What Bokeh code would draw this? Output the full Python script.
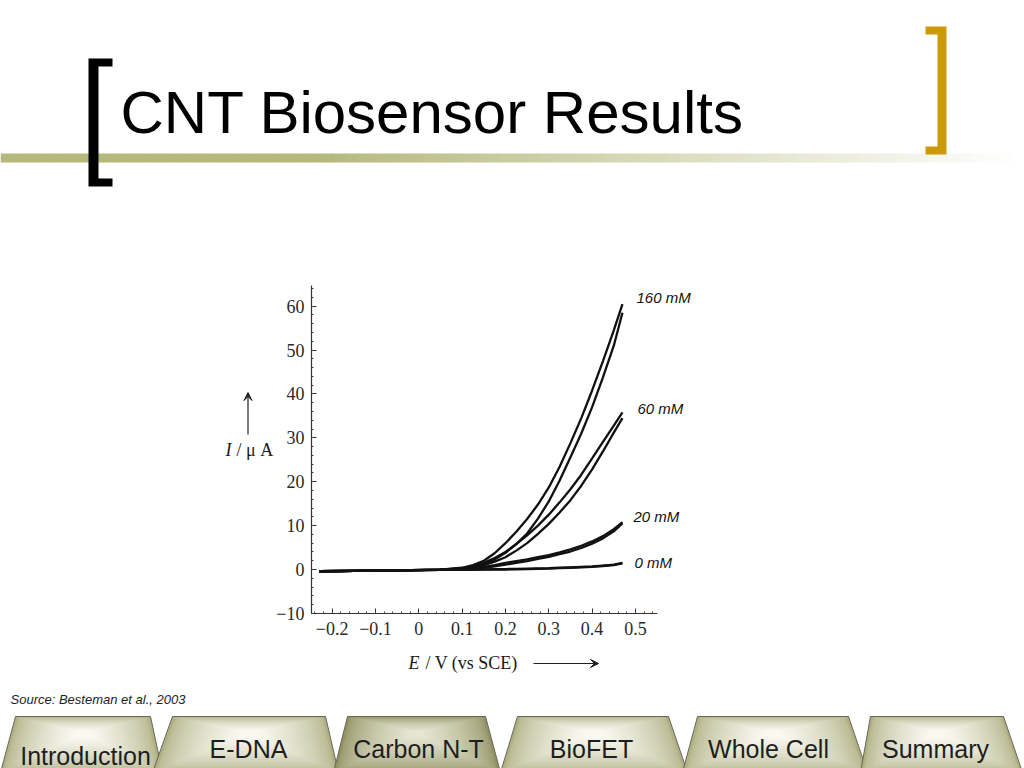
import numpy as np
from bokeh.plotting import figure
from bokeh.models import Range1d, FixedTicker, Label, Arrow, VeeHead
from bokeh.embed import file_html
from bokeh.resources import INLINE

# ---------------- data ----------------
E = [-0.23, -0.15, -0.05, 0.05, 0.100, 0.125, 0.150, 0.175, 0.200, 0.225,
     0.250, 0.275, 0.300, 0.325, 0.350, 0.375, 0.400, 0.425, 0.450, 0.470]

I_160_a = [-0.4, -0.3, -0.2, -0.05, 0.4, 1.0, 2.0, 3.7, 6.0, 8.6, 11.5, 14.8, 18.7, 23.4, 28.8, 34.5, 40.8, 47.5, 54.5, 60.5]
I_160_b = [-0.4, -0.3, -0.2, -0.1, 0.2, 0.6, 1.2, 2.3, 3.8, 5.8, 8.2, 11.6, 15.5, 20.3, 25.6, 31.0, 37.0, 43.8, 51.0, 58.5]
I_60_a = [-0.4, -0.3, -0.2, -0.05, 0.3, 0.8, 1.5, 2.6, 4.0, 5.8, 7.8, 10.0, 12.5, 15.3, 18.3, 21.6, 25.3, 29.1, 32.8, 35.8]
I_60_b = [-0.4, -0.3, -0.2, -0.1, 0.2, 0.5, 1.0, 1.8, 2.8, 4.3, 6.0, 8.1, 10.4, 13.0, 15.8, 19.1, 22.8, 26.9, 31.2, 34.5]
I_20_a = [-0.4, -0.3, -0.2, -0.05, 0.1, 0.3, 0.6, 1.0, 1.5, 1.9, 2.3, 2.8, 3.3, 3.9, 4.6, 5.4, 6.4, 7.6, 9.2, 10.8]
I_20_b = [-0.4, -0.3, -0.2, -0.1, 0.0, 0.2, 0.4, 0.7, 1.1, 1.5, 1.9, 2.4, 2.9, 3.5, 4.1, 4.9, 5.9, 7.1, 8.7, 10.5]
I_0_a = [-0.4, -0.3, -0.2, -0.05, 0.0, 0.02, 0.05, 0.08, 0.1, 0.15, 0.2, 0.25, 0.3, 0.4, 0.5, 0.6, 0.7, 0.9, 1.1, 1.5]
I_0_b = [-0.4, -0.3, -0.2, -0.1, -0.1, -0.08, -0.05, -0.02, 0.0, 0.05, 0.1, 0.15, 0.2, 0.3, 0.4, 0.5, 0.6, 0.8, 1.0, 1.4]

series_names = ["160 mM", "60 mM", "20 mM", "0 mM"]
series_a = [I_160_a, I_60_a, I_20_a, I_0_a]
series_b = [I_160_b, I_60_b, I_20_b, I_0_b]

x_ticks = [-0.2, -0.1, 0.0, 0.1, 0.2, 0.3, 0.4, 0.5]
x_tick_labels = ["\u22120.2", "\u22120.1", "0", "0.1", "0.2", "0.3", "0.4", "0.5"]
y_ticks = [-10, 0, 10, 20, 30, 40, 50, 60]
y_tick_labels = ["\u221210", "0", "10", "20", "30", "40", "50", "60"]

title_text = "CNT Biosensor Results"
source_text = "Source:  Besteman et al., 2003"
tab_names = ["Introduction", "E-DNA", "Carbon N-T", "BioFET", "Whole Cell", "Summary"]
active_tab = "Carbon N-T"

# ---------------- layout (page pixels) ----------------
W, H = 1024, 768
FL, FR, FT, FB = 311, 657, 285, 613          # chart axes box on the page
X0PX, XPPV = 418.3, 433.3                      # E = 0 position, px per volt
Y0PX, YPPU = 569.0, 4.388                      # I = 0 position, px per uA


def ex(px):
    return (px - X0PX) / XPPV


def iy(py):
    return (Y0PX - py) / YPPU


p = figure(width=W, height=H, output_backend="svg", toolbar_location=None,
           x_range=Range1d(ex(0), ex(W)), y_range=Range1d(iy(H), iy(0)),
           min_border=0)
p.extra_x_ranges = {"px": Range1d(0, W)}
p.extra_y_ranges = {"py": Range1d(H, 0)}
p.xgrid.visible = False
p.ygrid.visible = False
p.outline_line_color = None
p.background_fill_color = "white"
p.border_fill_color = "white"

x_minor = [round(v, 3) for v in np.arange(-0.24, 0.55, 0.02)]
y_minor = list(range(-10, 65, 2))
p.xaxis.ticker = FixedTicker(ticks=x_ticks, minor_ticks=x_minor)
p.yaxis.ticker = FixedTicker(ticks=y_ticks, minor_ticks=y_minor)
p.xaxis.major_label_overrides = dict(zip(x_ticks, x_tick_labels))
p.yaxis.major_label_overrides = dict(zip(y_ticks, y_tick_labels))
p.xaxis.fixed_location = iy(FB)
p.yaxis.fixed_location = ex(FL)
p.xaxis.bounds = (ex(FL), ex(FR))
p.yaxis.bounds = (iy(FB), iy(FT))
for ax in (p.xaxis[0], p.yaxis[0]):
    ax.major_tick_in = 5
    ax.major_tick_out = 0
    ax.minor_tick_in = 2
    ax.minor_tick_out = 0
    ax.axis_line_color = "#333333"
    ax.axis_line_width = 1.2
    ax.major_tick_line_color = "#333333"
    ax.minor_tick_line_color = "#444444"
    ax.major_label_text_font = "Liberation Serif"
    ax.major_label_text_font_size = "18px"
    ax.major_label_text_color = "#2a2a2a"
p.xaxis.major_label_standoff = 8
p.yaxis.major_label_standoff = 7


def poly(xs, ys, fill, alpha=1.0, line=None, lw=1.0):
    p.patch(list(xs), list(ys), x_range_name="px", y_range_name="py",
            fill_color=fill, fill_alpha=alpha,
            line_color=line if line else fill, line_width=lw if line else 0.0,
            line_alpha=1.0 if line else 0.0)


def label(x, y, text, size, font="Liberation Sans", style="normal", color="#000000",
          align="left", baseline="middle"):
    p.add_layout(Label(x=x, y=y, x_range_name="px", y_range_name="py", text=text,
                       text_font=font, text_font_size=f"{size}px", text_font_style=style,
                       text_color=color, text_align=align, text_baseline=baseline))


def mix(c1, c2, t):
    a = [int(c1[i:i + 2], 16) for i in (1, 3, 5)]
    b = [int(c2[i:i + 2], 16) for i in (1, 3, 5)]
    return "#%02x%02x%02x" % tuple(int(round(a[j] + (b[j] - a[j]) * t)) for j in range(3))


# olive header rule fading to the right (opaque colour steps, no seams)
n_seg = 80
for k in range(n_seg):
    x0 = k * W / n_seg
    x1 = (k + 1) * W / n_seg + 1.0
    xm = (x0 + x1) / 2
    t = 0.0 if xm < 320 else min(1.0, (xm - 320) / 700)
    poly([x0, x1, x1, x0], [153, 153, 162, 162], mix("#b5b87d", "#ffffff", t))

# brackets
poly([88, 112, 112, 98, 98, 112, 112, 88], [58, 58, 66, 66, 178, 178, 186, 186], "#000000")
poly([925, 946, 946, 925, 925, 937, 937, 925], [26, 26, 154, 154, 146, 146, 34, 34], "#cc9a05")

label(120, 112, title_text, 60, color="#000000")

# curves
for a, b in zip(series_a, series_b):
    p.line(E, a, line_width=2.3, line_color="#111111")
    p.line(E, b, line_width=2.3, line_color="#111111")

# chart annotations
label_pos = [(636, 297), (637, 408), (633, 516), (634, 562)]
for name, (lx, ly) in zip(series_names, label_pos):
    label(lx, ly, name, 15, style="italic", color="#111111")

label(225, 449, "I", 18, font="Liberation Serif", style="italic", color="#1a1a1a")
label(236, 449, "/ \u03bc A", 18, font="Liberation Serif", color="#1a1a1a")
label(408, 662, "E", 18, font="Liberation Serif", style="italic", color="#1a1a1a")
label(425, 662, "/ V (vs SCE)", 18, font="Liberation Serif", color="#1a1a1a")
p.add_layout(Arrow(end=VeeHead(size=8, fill_color="#222222", line_color="#222222"),
                   x_start=247.5, y_start=434, x_end=247.5, y_end=392, line_width=1.2,
                   line_color="#222222", x_range_name="px", y_range_name="py"))
p.add_layout(Arrow(end=VeeHead(size=8, fill_color="#222222", line_color="#222222"),
                   x_start=533, y_start=663, x_end=598, y_end=663, line_width=1.2,
                   line_color="#222222", x_range_name="px", y_range_name="py"))

label(10, 699, source_text, 13, style="italic", color="#222222")

# navigation tabs: (top-left, top-right, bottom-left, bottom-right, text x, text y)
tab_geom = [(15, 150, 0, 162, 85, 755), (172, 325, 152, 338, 248, 748),
            (347, 485, 333, 500, 418, 748), (517, 668, 500, 687, 591, 748),
            (697, 848, 682, 867, 768, 748), (870, 1003, 860, 1022, 935, 748)]
TY, BY = 716, 772

order = [n for n in tab_names if n != active_tab] + [active_tab]
for name in order:
    tl, tr, bl, br, tx, ty = tab_geom[tab_names.index(name)]
    if name == active_tab:
        edge, centre = "#929262", "#e8e8d6"
    else:
        edge, centre = "#b0b084", "#fcfcf6"
    xs = [bl, tl, tr, br]
    ys = [BY, TY, TY, BY]
    poly(xs, ys, edge, line="#66665a", lw=1.0)
    cx, cy = (tl + tr) / 2, 732
    n_layers = 22
    for k in range(1, n_layers + 1):
        t = k / (n_layers + 1)
        s = 1 - t * 0.95
        lx = [cx + (x - cx) * s for x in xs]
        ly = [cy + (y - cy) * s for y in ys]
        ly = [max(v, TY + 0.5) for v in ly]
        poly(lx, ly, mix(edge, centre, t ** 0.6), alpha=1.0)

for name in order:
    tl, tr, bl, br, tx, ty = tab_geom[tab_names.index(name)]
    label(tx, ty, name, 25, color="#1e1e1e", align="center")

open("out.html", "w").write(file_html(p, INLINE))
